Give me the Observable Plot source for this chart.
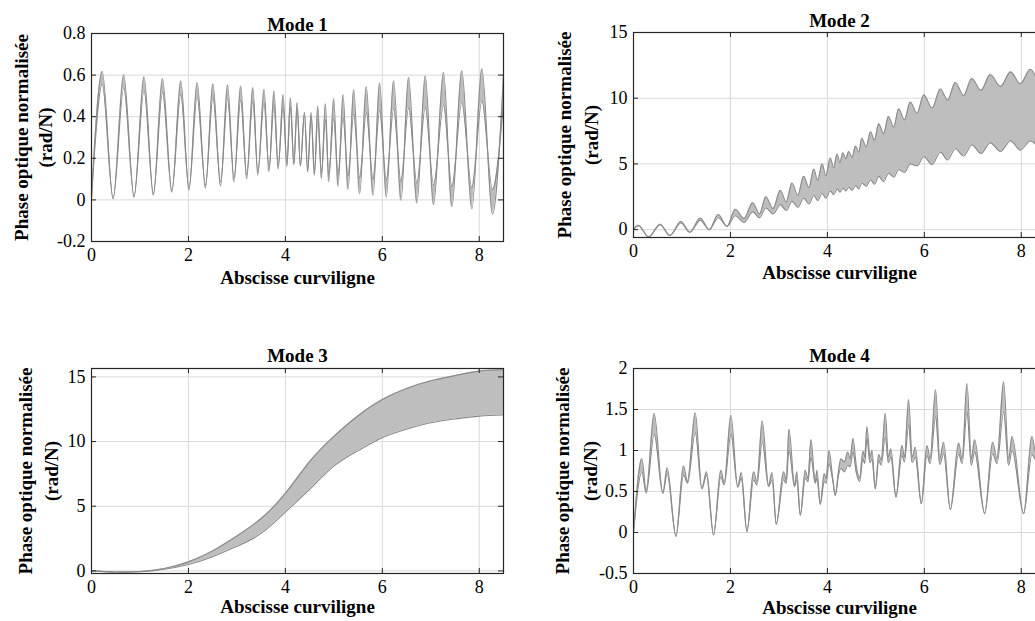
<!DOCTYPE html>
<html><head><meta charset="utf-8">
<script src="https://cdn.jsdelivr.net/npm/d3@7"></script>
<script src="https://cdn.jsdelivr.net/npm/@observablehq/plot@0.6"></script>
<style>
html,body{margin:0;padding:0;background:#fff;overflow:hidden;width:1035px;height:621px;}
#root{position:relative;width:1035px;height:621px;overflow:hidden;font-family:'Liberation Serif','Times New Roman',serif;}
.panel{position:absolute;}
</style></head><body><div id="root"></div>
<script>
// ---------- text ----------
const titles = ["Mode 1", "Mode 2", "Mode 3", "Mode 4"];
const xLabel = "Abscisse curviligne";
const yLabel1 = "Phase optique normalisée";
const yLabel2 = "(rad/N)";

// ---------- ticks ----------
const xTicks = [0, 2, 4, 6, 8];
const yTicks1 = [-0.2, 0, 0.2, 0.4, 0.6, 0.8];
const yTicks2 = [0, 5, 10, 15];
const yTicks3 = [0, 5, 10, 15];
const yTicks4 = [-0.5, 0, 0.5, 1, 1.5, 2];

// ---------- Mode 1 (extrema) ----------
const mode1X = [0, 0.222, 0.446, 0.665, 0.878, 1.084, 1.276, 1.465, 1.657, 1.842, 2.011, 2.180, 2.351, 2.505, 2.663, 2.808, 2.941, 3.078, 3.202, 3.329, 3.432, 3.560, 3.662, 3.765, 3.851, 3.954, 4.030, 4.105, 4.175, 4.243, 4.310, 4.393, 4.460, 4.531, 4.600, 4.668, 4.744, 4.826, 4.894, 4.997, 5.087, 5.190, 5.293, 5.410, 5.533, 5.670, 5.808, 5.945, 6.082, 6.233, 6.385, 6.542, 6.714, 6.886, 7.057, 7.263, 7.435, 7.640, 7.847, 8.054, 8.272, 8.500];
const mode1Outer = [0.01, 0.617, 0.005, 0.602, 0.012, 0.592, 0.022, 0.584, 0.037, 0.573, 0.047, 0.563, 0.056, 0.558, 0.066, 0.553, 0.086, 0.547, 0.100, 0.540, 0.118, 0.532, 0.135, 0.523, 0.148, 0.505, 0.160, 0.491, 0.168, 0.468, 0.162, 0.420, 0.134, 0.420, 0.119, 0.451, 0.103, 0.462, 0.087, 0.487, 0.065, 0.506, 0.049, 0.531, 0.029, 0.544, 0.021, 0.563, 0.013, 0.573, -0.003, 0.589, -0.016, 0.596, -0.023, 0.614, -0.033, 0.622, -0.044, 0.630, -0.069, 0.600];
const mode1Inner = [0.01, 0.556, 0.008, 0.538, 0.018, 0.525, 0.030, 0.518, 0.045, 0.506, 0.056, 0.497, 0.070, 0.492, 0.085, 0.486, 0.105, 0.480, 0.120, 0.475, 0.135, 0.468, 0.150, 0.458, 0.162, 0.450, 0.170, 0.445, 0.175, 0.440, 0.165, 0.418, 0.140, 0.405, 0.135, 0.390, 0.130, 0.385, 0.125, 0.390, 0.120, 0.397, 0.115, 0.413, 0.105, 0.421, 0.100, 0.429, 0.095, 0.438, 0.088, 0.442, 0.080, 0.446, 0.072, 0.457, 0.065, 0.467, 0.058, 0.476, 0.050, 0.470];

// ---------- Mode 2 ----------
const mode2X = [0, 0.10, 0.31, 0.55, 0.75, 0.98, 1.16, 1.38, 1.56, 1.75, 1.93, 2.10, 2.28, 2.46, 2.60, 2.73, 2.88, 3.03, 3.15, 3.27, 3.39, 3.51, 3.62, 3.72, 3.80, 3.89, 3.97, 4.06, 4.13, 4.20, 4.26, 4.32, 4.38, 4.44, 4.51, 4.58, 4.65, 4.71, 4.80, 4.89, 4.97, 5.06, 5.16, 5.26, 5.37, 5.47, 5.59, 5.71, 5.85, 5.99, 6.16, 6.33, 6.48, 6.64, 6.81, 6.98, 7.17, 7.36, 7.57, 7.78, 7.98, 8.19, 8.38, 8.50];
const mode2Upper = [0.0, 0.33, -0.55, 0.41, -0.45, 0.62, -0.2, 0.88, 0.0, 1.15, 0.25, 1.55, 0.85, 2.05, 1.2, 2.5, 1.6, 3.0, 2.1, 3.55, 2.6, 4.05, 3.2, 4.6, 3.75, 5.0, 4.1, 5.45, 4.7, 5.75, 5.1, 5.85, 5.4, 5.95, 5.5, 6.35, 5.9, 6.95, 6.3, 7.45, 6.8, 8.05, 7.3, 8.6, 7.8, 9.2, 8.35, 9.7, 8.85, 10.25, 9.25, 10.7, 9.85, 11.2, 10.2, 11.5, 10.6, 11.8, 10.9, 12.0, 11.1, 12.2, 11.3, 11.9];
const mode2Lower = [0.0, 0.30, -0.55, 0.35, -0.45, 0.50, -0.2, 0.70, 0.0, 0.90, 0.25, 1.05, 0.55, 1.35, 0.9, 1.65, 1.2, 1.9, 1.45, 2.15, 1.7, 2.4, 1.95, 2.6, 2.2, 2.75, 2.4, 2.95, 2.65, 3.1, 2.85, 3.15, 2.95, 3.2, 3.0, 3.35, 3.1, 3.55, 3.3, 3.8, 3.45, 4.05, 3.65, 4.3, 4.0, 4.55, 4.35, 5.0, 4.85, 5.55, 4.95, 5.9, 5.3, 6.15, 5.6, 6.45, 5.8, 6.6, 5.95, 6.75, 6.05, 6.75, 6.3, 6.6];

// ---------- Mode 3 ----------
const mode3X = [0, 0.5, 1, 1.5, 2, 2.5, 3, 3.5, 4, 4.5, 5, 5.5, 6, 6.5, 7, 7.5, 8, 8.5];
const mode3Upper = [0.0, -0.08, -0.05, 0.18, 0.7, 1.55, 2.7, 4.05, 6.0, 8.45, 10.4, 12.0, 13.25, 14.1, 14.7, 15.1, 15.45, 15.55];
const mode3Lower = [0.0, -0.08, -0.07, 0.13, 0.5, 1.1, 1.9, 2.9, 4.55, 6.3, 8.1, 9.3, 10.3, 10.95, 11.45, 11.75, 11.97, 12.05];

// ---------- Mode 4 ----------
const mode4X = [0.000, 0.173, 0.262, 0.427, 0.606, 0.695, 0.875, 1.032, 1.115, 1.274, 1.411, 1.507, 1.651, 1.803, 1.872, 2.010, 2.150, 2.225, 2.340, 2.478, 2.547, 2.656, 2.787, 2.860, 2.945, 3.097, 3.152, 3.207, 3.324, 3.370, 3.441, 3.544, 3.600, 3.661, 3.750, 3.785, 3.853, 3.936, 3.975, 4.032, 4.115, 4.163, 4.230, 4.280, 4.350, 4.420, 4.470, 4.528, 4.600, 4.665, 4.734, 4.770, 4.817, 4.880, 4.920, 4.989, 5.060, 5.110, 5.195, 5.260, 5.310, 5.415, 5.539, 5.590, 5.676, 5.750, 5.814, 5.938, 6.055, 6.120, 6.233, 6.320, 6.399, 6.537, 6.709, 6.780, 6.881, 6.970, 7.038, 7.245, 7.410, 7.500, 7.637, 7.740, 7.810, 8.050, 8.220, 8.300, 8.500];
const mode4Outer = [0.00, 0.90, 0.50, 1.45, 0.48, 0.79, -0.045, 0.81, 0.62, 1.46, 0.54, 0.74, -0.03, 0.76, 0.60, 1.43, 0.56, 0.73, 0.01, 0.74, 0.62, 1.36, 0.58, 0.73, 0.10, 0.74, 0.64, 1.26, 0.58, 0.74, 0.21, 0.76, 0.66, 1.13, 0.62, 0.76, 0.345, 0.72, 0.66, 1.00, 0.64, 0.455, 0.75, 0.90, 0.86, 0.98, 0.90, 1.146, 0.80, 0.66, 0.99, 0.92, 1.29, 0.92, 1.00, 0.536, 0.95, 0.88, 1.45, 0.92, 1.02, 0.434, 1.06, 0.92, 1.62, 0.92, 1.04, 0.354, 1.06, 0.90, 1.74, 0.90, 1.10, 0.28, 1.09, 0.90, 1.817, 0.90, 1.13, 0.23, 1.10, 0.90, 1.837, 0.90, 1.17, 0.23, 1.17, 0.95, 0.80];
const mode4Inner = [0.00, 0.74, 0.48, 1.20, 0.48, 0.72, -0.045, 0.70, 0.60, 1.22, 0.53, 0.70, -0.03, 0.68, 0.58, 1.20, 0.55, 0.66, 0.01, 0.64, 0.58, 1.11, 0.56, 0.64, 0.10, 0.64, 0.60, 1.01, 0.56, 0.64, 0.21, 0.66, 0.62, 0.92, 0.60, 0.66, 0.345, 0.62, 0.60, 0.84, 0.62, 0.45, 0.70, 0.78, 0.74, 0.82, 0.80, 0.98, 0.72, 0.62, 0.90, 0.84, 1.15, 0.85, 0.90, 0.53, 0.88, 0.82, 1.17, 0.85, 0.92, 0.43, 0.94, 0.86, 1.31, 0.85, 0.92, 0.35, 0.94, 0.84, 1.41, 0.83, 0.96, 0.28, 0.96, 0.84, 1.47, 0.82, 0.98, 0.23, 0.96, 0.84, 1.47, 0.82, 1.00, 0.23, 0.95, 0.88, 0.75];

const FONT = "'Liberation Serif','Times New Roman',serif";
const FILL = "#bebebe", LINE = "#8a8a8a", GRID = "#d9d9d9", AXIS = "#262626";

function panel(cfg) {
  const rows = cfg.x.map((x, i) => ({x, a: cfg.a[i], b: cfg.b[i]}));
  const pw = cfg.width - cfg.ml - cfg.mr;
  const ph = cfg.height - cfg.mt - cfg.mb;
  const fmt = d => String(d);
  const chart = Plot.plot({
    width: cfg.width, height: cfg.height,
    marginLeft: cfg.ml, marginRight: cfg.mr, marginTop: cfg.mt, marginBottom: cfg.mb,
    style: {fontFamily: FONT, fontSize: "18px", color: "#000", background: "transparent", overflow: "visible"},
    x: {domain: [0, 8.5], label: null},
    y: {domain: cfg.yDomain, label: null},
    marks: [
      Plot.gridX(xTicks, {stroke: GRID, strokeOpacity: 1, strokeWidth: 1}),
      Plot.gridY(cfg.yTicks, {stroke: GRID, strokeOpacity: 1, strokeWidth: 1}),
      Plot.areaY(rows, {x: "x", y1: "b", y2: "a", fill: FILL, curve: cfg.curve, clip: true}),
      Plot.line(rows, {x: "x", y: "a", stroke: LINE, strokeWidth: 1.1, curve: cfg.curve, clip: true}),
      Plot.line(rows, {x: "x", y: "b", stroke: LINE, strokeWidth: 1.1, curve: cfg.curve, clip: true}),
      Plot.ruleX(xTicks, {stroke: AXIS, insetTop: ph - 5}),
      Plot.ruleX(xTicks, {stroke: AXIS, insetBottom: ph - 5}),
      Plot.ruleY(cfg.yTicks, {stroke: AXIS, insetRight: pw - 5}),
      Plot.ruleY(cfg.yTicks, {stroke: AXIS, insetLeft: pw - 5}),
      Plot.frame({stroke: AXIS, strokeWidth: 1.2}),
      Plot.axisX(xTicks, {tickSize: 0, tickPadding: 7, tickFormat: fmt, label: null}),
      Plot.axisY(cfg.yTicks, {tickSize: 0, tickPadding: 6, tickFormat: fmt, label: null}),
      Plot.text([cfg.title], {frameAnchor: "top", dy: cfg.titleDy, fontWeight: "bold", fontSize: 19, textAnchor: "middle", lineAnchor: "middle"}),
      Plot.text([xLabel], {frameAnchor: "bottom", dy: cfg.xlabDy, fontWeight: "bold", fontSize: 19, textAnchor: "middle", lineAnchor: "middle"}),
      Plot.text([yLabel1], {frameAnchor: "left", dx: cfg.yl1, rotate: -90, fontWeight: "bold", fontSize: 19, textAnchor: "middle", lineAnchor: "middle"}),
      Plot.text([yLabel2], {frameAnchor: "left", dx: cfg.yl2, rotate: -90, fontWeight: "bold", fontSize: 19, textAnchor: "middle", lineAnchor: "middle"})
    ]
  });
  chart.classList.add("panel");
  chart.style.left = cfg.left + "px";
  chart.style.top = cfg.top + "px";
  document.getElementById("root").appendChild(chart);
}

panel({x: mode1X, a: mode1Outer, b: mode1Inner, yDomain: [-0.2, 0.8], yTicks: yTicks1, title: titles[0],
  left: 0, top: 0, width: 520, height: 300, ml: 91, mr: 17, mt: 33, mb: 59, curve: "monotone-x",
  titleDy: -9, xlabDy: 36, yl1: -70, yl2: -46});
panel({x: mode2X, a: mode2Upper, b: mode2Lower, yDomain: [-0.6, 15], yTicks: yTicks2, title: titles[1],
  left: 520, top: 0, width: 540, height: 300, ml: 113, mr: 15, mt: 32, mb: 63, curve: "monotone-x",
  titleDy: -11.5, xlabDy: 35, yl1: -68.5, yl2: -42});
panel({x: mode3X, a: mode3Upper, b: mode3Lower, yDomain: [-0.2, 15.65], yTicks: yTicks3, title: titles[2],
  left: 0, top: 320, width: 520, height: 301, ml: 91, mr: 17, mt: 48, mb: 48, curve: "natural",
  titleDy: -12.5, xlabDy: 33.5, yl1: -66, yl2: -40});
panel({x: mode4X, a: mode4Outer, b: mode4Inner, yDomain: [-0.5, 2], yTicks: yTicks4, title: titles[3],
  left: 520, top: 320, width: 540, height: 301, ml: 113, mr: 15, mt: 48, mb: 48, curve: "monotone-x",
  titleDy: -12.5, xlabDy: 34, yl1: -70.5, yl2: -43});
</script>
</body></html>
